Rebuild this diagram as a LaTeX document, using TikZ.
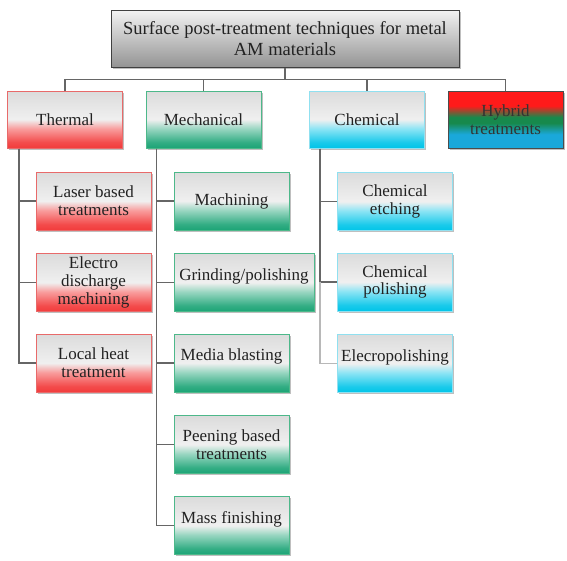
\documentclass[tikz,border=0pt]{standalone}
\usepackage{fontspec}
\setmainfont{Liberation Serif}
\usetikzlibrary{shadows}
\definecolor{thR}{HTML}{F23C3C}
\definecolor{meG}{HTML}{1CA476}
\definecolor{chC}{HTML}{00C4E8}
\definecolor{lineC}{HTML}{666666}
\definecolor{txtC}{HTML}{222222}
\definecolor{hyB}{HTML}{1AA8DA}
\definecolor{hyG}{HTML}{17894C}
\definecolor{hyR}{HTML}{FF1A1A}
\definecolor{thD}{HTML}{E86A6A}
\definecolor{meD}{HTML}{4DB88A}
\definecolor{chD}{HTML}{90E0F0}
\pgfdeclareverticalshading{thsh}{100bp}{color(0bp)=(thR); color(25bp)=(thR); color(30bp)=(thR!92!white); color(42bp)=(thR!50!white); color(50bp)=(white!94!black); color(75bp)=(white!86!black); color(100bp)=(white!86!black)}
\pgfdeclareverticalshading{mesh}{100bp}{color(0bp)=(meG); color(25bp)=(meG); color(30bp)=(meG!90!white); color(42bp)=(meG!45!white); color(50bp)=(white!94!black); color(75bp)=(white!86!black); color(100bp)=(white!86!black)}
\pgfdeclareverticalshading{chsh}{100bp}{color(0bp)=(chC); color(25bp)=(chC); color(30bp)=(chC!90!white); color(42bp)=(chC!45!white); color(50bp)=(white!94!black); color(75bp)=(white!86!black); color(100bp)=(white!86!black)}
\pgfdeclareverticalshading{hysh}{100bp}{color(0bp)=(hyB); color(25bp)=(hyB); color(37bp)=(hyB); color(47bp)=(hyG); color(52bp)=(hyG); color(62bp)=(hyR); color(75bp)=(hyR); color(100bp)=(hyR)}
\pgfdeclareverticalshading{topsh}{100bp}{color(0bp)=(white!58!black); color(25bp)=(white!58!black); color(75bp)=(white!95!black); color(100bp)=(white!95!black)}
\tikzset{
  box/.style={draw, line width=1pt, align=center, text=txtC, inner xsep=2pt, inner ysep=2pt,
    font=\fontsize{17}{17.7}\selectfont,
    drop shadow={shadow xshift=1.5pt, shadow yshift=-1.5pt, opacity=0.25, fill=black}},
  topbox/.style={box, shading=topsh, draw=black!75, minimum width=348pt, minimum height=57pt,
    font=\fontsize{18.5}{20.5}\selectfont},
  catbox/.style={box, minimum width=115pt, minimum height=57pt},
  subbox/.style={box, minimum width=115pt, minimum height=58pt},
  thbox/.style={shading=thsh, draw=thD},
  mebox/.style={shading=mesh, draw=meD},
  chbox/.style={shading=chsh, draw=chD},
  conn/.style={draw=lineC, line width=1.4pt},
}
\begin{document}
\begin{tikzpicture}[x=1pt,y=-1pt]
\useasboundingbox (0,0) rectangle (567,560);
\node[topbox] (top) at (285,38.5) {Surface post-treatment techniques for metal\\AM materials};
\node[catbox, thbox] (thermal) at (65,119.5) {Thermal};
\node[catbox, mebox] (mech) at (203.5,119.5) {Mechanical};
\node[catbox, chbox] (chem) at (367,119.5) {Chemical};
\node[catbox, shading=hysh, draw=black!70, text=black!80] (hybrid) at (505.5,119.5) {Hybrid\\treatments};
% thermal children
\node[subbox, thbox] (laser) at (93.5,201) {Laser based\\treatments};
\node[subbox, thbox] (edm) at (93.5,282.5) {Electro\\discharge\\machining};
\node[subbox, thbox] (lht) at (93.5,363) {Local heat\\treatment};
% mechanical children
\node[subbox, mebox] (mach) at (231.5,201) {Machining};
\node[subbox, mebox, minimum width=140pt] (grind) at (244,282.5) {Grinding/polishing\\[-1pt]\mbox{}};
\node[subbox, mebox] (media) at (231.5,363) {Media blasting\\[-1pt]\mbox{}};
\node[subbox, mebox] (peen) at (231.5,444.5) {Peening based\\treatments};
\node[subbox, mebox] (mass) at (231.5,525.5) {Mass finishing\\[-1pt]\mbox{}};
% chemical children
\node[subbox, chbox] (etch) at (395,201.5) {Chemical\\etching};
\node[subbox, chbox] (cpol) at (395,282) {Chemical\\polishing};
\node[subbox, chbox] (epol) at (395,363.5) {Elecropolishing\\[-1pt]\mbox{}};
% connectors
\coordinate (bus) at ([yshift=-12pt]top.south);
\draw[conn] (top.south) -- (bus);
\draw[conn] (bus) -| (thermal.north);
\draw[conn] (bus) -| (mech.north);
\draw[conn] (bus) -| (chem.north);
\draw[conn] (bus) -| (hybrid.north);
\coordinate (tl) at ([xshift=12pt]thermal.south west);
\draw[conn] (tl) |- (laser.west);
\draw[conn] (tl) |- (edm.west);
\draw[conn] (tl) |- (lht.west);
\coordinate (ml) at ([xshift=11pt]mech.south west);
\draw[conn] (ml) |- (mach.west);
\draw[conn] (ml) |- (grind.west);
\draw[conn] (ml) |- (media.west);
\draw[conn] (ml) |- (peen.west);
\draw[conn] (ml) |- (mass.west);
\coordinate (cl) at ([xshift=11pt]chem.south west);
\draw[conn] (cl) |- (etch.west);
\draw[conn] (cl) |- (cpol.west);
\draw[conn, draw=black!28] (cl |- cpol.west) |- (epol.west);
\end{tikzpicture}
\end{document}
